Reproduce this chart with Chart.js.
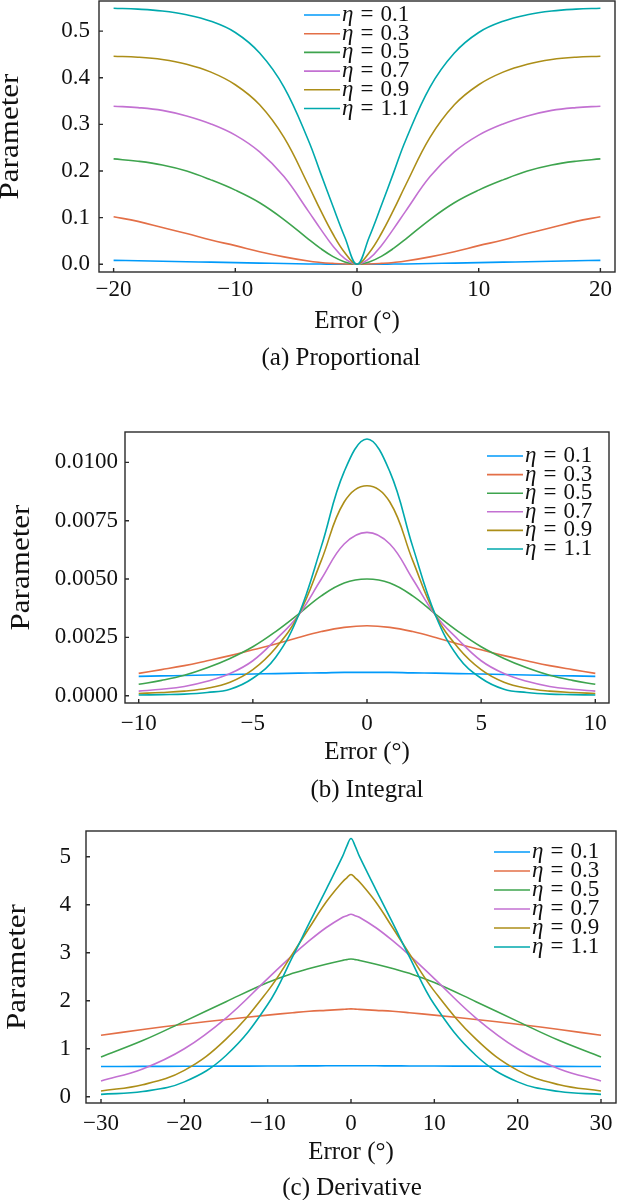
<!DOCTYPE html>
<html>
<head>
<meta charset="UTF-8">
<title>Parameter vs error</title>
<script src="https://cdn.jsdelivr.net/npm/chart.js@4.4.0/dist/chart.umd.min.js"></script>
<style>
  body { margin: 0; background: #fff; }
  canvas.panel { position: absolute; left: 0; }
</style>
</head>
<body>

<canvas id="chartP" class="panel" width="618" height="380" style="top:0px"></canvas>
<canvas id="chartI" class="panel" width="618" height="410" style="top:400px"></canvas>
<canvas id="chartD" class="panel" width="618" height="390" style="top:810px"></canvas>

<script>
// ---- data ----
var etaValues = [0.1, 0.3, 0.5, 0.7, 0.9, 1.1];
var lineColors = ['#009AFA', '#E36F47', '#3EA44E', '#C371D2', '#AC8E18', '#00A9AD'];

// (a) Proportional
var errP = [-20, -18, -16, -14, -12, -10, -8, -6, -4, -3, -2, -1, 0, 1, 2, 3, 4, 6, 8, 10, 12, 14, 16, 18, 20];
var pEta01 = [0.0085, 0.0076, 0.0066, 0.0056, 0.0046, 0.0036, 0.0026, 0.0017, 0.0008, 0.0005, 0.0002, 0.0001, 0, 0.0001, 0.0002, 0.0005, 0.0008, 0.0017, 0.0026, 0.0036, 0.0046, 0.0056, 0.0066, 0.0076, 0.0085];
var pEta03 = [0.102, 0.092, 0.079, 0.066, 0.052, 0.040, 0.027, 0.016, 0.007, 0.004, 0.002, 0.0005, 0, 0.0005, 0.002, 0.004, 0.007, 0.016, 0.027, 0.040, 0.052, 0.066, 0.079, 0.092, 0.102];
var pEta05 = [0.226, 0.221, 0.213, 0.200, 0.181, 0.159, 0.132, 0.096, 0.054, 0.034, 0.017, 0.005, 0, 0.005, 0.017, 0.034, 0.054, 0.096, 0.132, 0.159, 0.181, 0.200, 0.213, 0.221, 0.226];
var pEta07 = [0.339, 0.336, 0.330, 0.318, 0.301, 0.277, 0.241, 0.188, 0.114, 0.076, 0.040, 0.012, 0, 0.012, 0.040, 0.076, 0.114, 0.188, 0.241, 0.277, 0.301, 0.318, 0.330, 0.336, 0.339];
var pEta09 = [0.446, 0.444, 0.439, 0.429, 0.412, 0.385, 0.342, 0.272, 0.170, 0.116, 0.066, 0.025, 0, 0.025, 0.066, 0.116, 0.170, 0.272, 0.342, 0.385, 0.412, 0.429, 0.439, 0.444, 0.446];
var pEta11 = [0.549, 0.547, 0.543, 0.535, 0.521, 0.497, 0.453, 0.380, 0.266, 0.196, 0.126, 0.058, 0, 0.058, 0.126, 0.196, 0.266, 0.380, 0.453, 0.497, 0.521, 0.535, 0.543, 0.547, 0.549];

// (b) Integral
var errI = [-10, -9, -8, -7, -6, -5, -4, -3, -2, -1, 0, 1, 2, 3, 4, 5, 6, 7, 8, 9, 10];
var iEta01 = [0.00083, 0.00085, 0.00087, 0.00089, 0.00091, 0.00093, 0.00095, 0.00097, 0.00098, 0.00100, 0.00100, 0.00100, 0.00098, 0.00097, 0.00095, 0.00093, 0.00091, 0.00089, 0.00087, 0.00085, 0.00083];
var iEta03 = [0.00096, 0.00112, 0.00129, 0.00150, 0.00172, 0.00197, 0.00222, 0.00250, 0.00275, 0.00293, 0.00300, 0.00293, 0.00275, 0.00250, 0.00222, 0.00197, 0.00172, 0.00150, 0.00129, 0.00112, 0.00096];
var iEta05 = [0.00049, 0.00066, 0.00088, 0.00120, 0.00160, 0.00210, 0.00275, 0.00350, 0.00428, 0.00483, 0.00500, 0.00483, 0.00428, 0.00350, 0.00275, 0.00210, 0.00160, 0.00120, 0.00088, 0.00066, 0.00049];
var iEta07 = [0.00020, 0.00028, 0.00040, 0.00062, 0.00095, 0.00150, 0.00240, 0.00345, 0.00500, 0.00650, 0.00700, 0.00650, 0.00500, 0.00345, 0.00240, 0.00150, 0.00095, 0.00062, 0.00040, 0.00028, 0.00020];
var iEta09 = [0.00010, 0.00014, 0.00020, 0.00032, 0.00058, 0.00112, 0.00205, 0.00345, 0.00580, 0.00830, 0.00900, 0.00830, 0.00580, 0.00345, 0.00205, 0.00112, 0.00058, 0.00032, 0.00020, 0.00014, 0.00010];
var iEta11 = [0.00003, 0.00005, 0.00007, 0.00014, 0.00028, 0.00075, 0.00165, 0.00345, 0.00640, 0.00960, 0.01100, 0.00960, 0.00640, 0.00345, 0.00165, 0.00075, 0.00028, 0.00014, 0.00007, 0.00005, 0.00003];

// (c) Derivative
var errD = [-30, -25, -20, -15, -10, -7, -5, -3, -1, -0.5, 0, 0.5, 1, 3, 5, 7, 10, 15, 20, 25, 30];
var dEta01 = [0.630, 0.632, 0.635, 0.637, 0.640, 0.642, 0.643, 0.645, 0.646, 0.646, 0.646, 0.646, 0.646, 0.645, 0.643, 0.642, 0.640, 0.637, 0.635, 0.632, 0.630];
var dEta03 = [1.28, 1.40, 1.51, 1.61, 1.70, 1.75, 1.78, 1.80, 1.82, 1.826, 1.83, 1.826, 1.82, 1.80, 1.78, 1.75, 1.70, 1.61, 1.51, 1.40, 1.28];
var dEta05 = [0.83, 1.17, 1.57, 1.98, 2.38, 2.57, 2.67, 2.76, 2.84, 2.856, 2.87, 2.856, 2.84, 2.76, 2.67, 2.57, 2.38, 1.98, 1.57, 1.17, 0.83];
var dEta07 = [0.33, 0.58, 1.00, 1.64, 2.46, 2.95, 3.25, 3.52, 3.74, 3.77, 3.80, 3.77, 3.74, 3.52, 3.25, 2.95, 2.46, 1.64, 1.00, 0.58, 0.33];
var dEta09 = [0.12, 0.25, 0.55, 1.20, 2.20, 2.98, 3.52, 4.05, 4.48, 4.56, 4.63, 4.56, 4.48, 4.05, 3.52, 2.98, 2.20, 1.20, 0.55, 0.25, 0.12];
var dEta11 = [0.05, 0.11, 0.31, 0.86, 1.92, 2.92, 3.62, 4.31, 5.01, 5.22, 5.38, 5.22, 5.01, 4.31, 3.62, 2.92, 1.92, 0.86, 0.31, 0.11, 0.05];

// tick values and labels
var xTicksP = [-20, -10, 0, 10, 20];
var xTickLabelsP = ['\u221220', '\u221210', '0', '10', '20'];
var yTicksP = [0, 0.1, 0.2, 0.3, 0.4, 0.5];
var yTickLabelsP = ['0.0', '0.1', '0.2', '0.3', '0.4', '0.5'];

var xTicksI = [-10, -5, 0, 5, 10];
var xTickLabelsI = ['\u221210', '\u22125', '0', '5', '10'];
var yTicksI = [0, 0.0025, 0.005, 0.0075, 0.01];
var yTickLabelsI = ['0.0000', '0.0025', '0.0050', '0.0075', '0.0100'];

var xTicksD = [-30, -20, -10, 0, 10, 20, 30];
var xTickLabelsD = ['\u221230', '\u221220', '\u221210', '0', '10', '20', '30'];
var yTicksD = [0, 1, 2, 3, 4, 5];
var yTickLabelsD = ['0', '1', '2', '3', '4', '5'];

// ---- drawing ----
var SERIF = '"Liberation Serif", "Times New Roman", serif';
Chart.defaults.font.family = SERIF;
Chart.defaults.color = '#111';

function points(xs, ys) {
  return xs.map(function (x, i) { return { x: x, y: ys[i] }; });
}

function makeDatasets(xs, seriesList) {
  return seriesList.map(function (ys, i) {
    return {
      label: '\u03b7 = ' + etaValues[i],
      data: points(xs, ys),
      borderColor: lineColors[i],
      borderWidth: 1.6,
      pointRadius: 0,
      fill: false,
      tension: 0.4,
      order: seriesList.length - i
    };
  });
}

// frame, inward ticks, y label, in-plot legend and caption
var decorPlugin = {
  id: 'decor',
  afterDraw: function (chart, args, o) {
    var ctx = chart.ctx, a = chart.chartArea;
    var xs = chart.scales.x, ys = chart.scales.y;
    ctx.save();
    ctx.strokeStyle = '#2a2a2a';
    ctx.lineWidth = 1.4;
    ctx.strokeRect(a.left, a.top, a.right - a.left, a.bottom - a.top);
    ctx.beginPath();
    xs.ticks.forEach(function (t) {
      var px = xs.getPixelForValue(t.value);
      ctx.moveTo(px, a.bottom); ctx.lineTo(px, a.bottom - 4);
    });
    ys.ticks.forEach(function (t) {
      var py = ys.getPixelForValue(t.value);
      ctx.moveTo(a.left, py); ctx.lineTo(a.left + 4, py);
    });
    ctx.stroke();

    ctx.fillStyle = '#111';
    ctx.textBaseline = 'middle';

    // y axis label (rotated, long like the original)
    ctx.save();
    ctx.translate(o.yLabelX, (a.top + a.bottom) / 2);
    ctx.rotate(-Math.PI / 2);
    ctx.scale(1.15, 1);
    ctx.font = '27px ' + SERIF;
    ctx.textAlign = 'center';
    ctx.fillText('Parameter', 0, 0);
    ctx.restore();

    // legend
    ctx.textAlign = 'left';
    chart.data.datasets.forEach(function (ds, i) {
      var y = o.legendY + i * o.legendDY;
      ctx.strokeStyle = ds.borderColor;
      ctx.lineWidth = 1.6;
      ctx.beginPath();
      ctx.moveTo(o.legendX, y); ctx.lineTo(o.legendX + 36, y);
      ctx.stroke();
      var parts = ds.label.split(' = ');
      var tx = o.legendX + 38;
      ctx.font = 'italic 23px ' + SERIF;
      ctx.fillText(parts[0], tx, y);
      tx += ctx.measureText(parts[0]).width + 7;
      ctx.font = '23px ' + SERIF;
      ctx.fillText('=', tx, y);
      tx += ctx.measureText('=').width + 7;
      ctx.fillText(parts[1], tx, y);
    });

    // caption
    ctx.font = '25px ' + SERIF;
    ctx.textAlign = 'center';
    ctx.fillText(o.caption, o.captionX, o.captionY);
    ctx.restore();
  }
};

function makeChart(id, cfg) {
  var ctx = document.getElementById(id).getContext('2d');
  return new Chart(ctx, {
    type: 'line',
    data: { datasets: makeDatasets(cfg.xs, cfg.series) },
    plugins: [decorPlugin],
    options: {
      responsive: false,
      animation: false,
      layout: { padding: cfg.padding },
      scales: {
        x: {
          type: 'linear',
          min: cfg.xMin, max: cfg.xMax,
          grid: { display: false, drawTicks: false },
          border: { display: false },
          afterBuildTicks: function (s) { s.ticks = cfg.xTicks.map(function (v) { return { value: v }; }); },
          afterFit: function (s) { s.height = 62; s.paddingLeft = 0; s.paddingRight = 0; },
          ticks: {
            font: { size: 23 }, padding: cfg.xTickPad, maxRotation: 0,
            callback: function (v, i) { return cfg.xTickLabels[i]; }
          },
          title: { display: true, text: 'Error (\u00b0)', font: { size: 25, lineHeight: 1 }, padding: 0 }
        },
        y: {
          type: 'linear',
          min: cfg.yMin, max: cfg.yMax,
          grid: { display: false, drawTicks: false },
          border: { display: false },
          afterBuildTicks: function (s) { s.ticks = cfg.yTicks.map(function (v) { return { value: v }; }); },
          afterFit: function (s) { s.width = cfg.left; s.paddingTop = 0; s.paddingBottom = 0; },
          ticks: {
            font: { size: 23 }, padding: cfg.yTickPad,
            callback: function (v, i) { return cfg.yTickLabels[i]; }
          },
          title: { display: false }
        }
      },
      plugins: {
        legend: { display: false },
        tooltip: { enabled: false },
        decor: cfg.decor
      }
    }
  });
}

makeChart('chartP', {
  xs: errP, series: [pEta01, pEta03, pEta05, pEta07, pEta09, pEta11],
  xMin: -21.2, xMax: 21.2, yMin: -0.0165, yMax: 0.5645,
  xTicks: xTicksP, xTickLabels: xTickLabelsP, yTicks: yTicksP, yTickLabels: yTickLabelsP,
  padding: { left: 0, top: 1, right: 3, bottom: 46 },
  left: 99, xTickPad: 4, yTickPad: 9,
  decor: { yLabelX: 11, legendX: 304, legendY: 15, legendDY: 18.7, caption: '(a) Proportional', captionX: 341, captionY: 358 }
});

makeChart('chartI', {
  xs: errI, series: [iEta01, iEta03, iEta05, iEta07, iEta09, iEta11],
  xMin: -10.6, xMax: 10.6, yMin: -0.00031, yMax: 0.0113,
  xTicks: xTicksI, xTickLabels: xTickLabelsI, yTicks: yTicksI, yTickLabels: yTickLabelsI,
  padding: { left: 0, top: 32, right: 9, bottom: 45 },
  left: 125, xTickPad: 7, yTickPad: 7,
  decor: { yLabelX: 22, legendX: 487, legendY: 56, legendDY: 18.6, caption: '(b) Integral', captionX: 367, captionY: 390 }
});

makeChart('chartD', {
  xs: errD, series: [dEta01, dEta03, dEta05, dEta07, dEta09, dEta11],
  xMin: -31.8, xMax: 31.8, yMin: -0.13, yMax: 5.535,
  xTicks: xTicksD, xTickLabels: xTickLabelsD, yTicks: yTicksD, yTickLabels: yTickLabelsD,
  padding: { left: 0, top: 21, right: 2, bottom: 35 },
  left: 86, xTickPad: 7, yTickPad: 15,
  decor: { yLabelX: 18, legendX: 494, legendY: 42, legendDY: 19, caption: '(c) Derivative', captionX: 352, captionY: 378 }
});
</script>
</body>
</html>
